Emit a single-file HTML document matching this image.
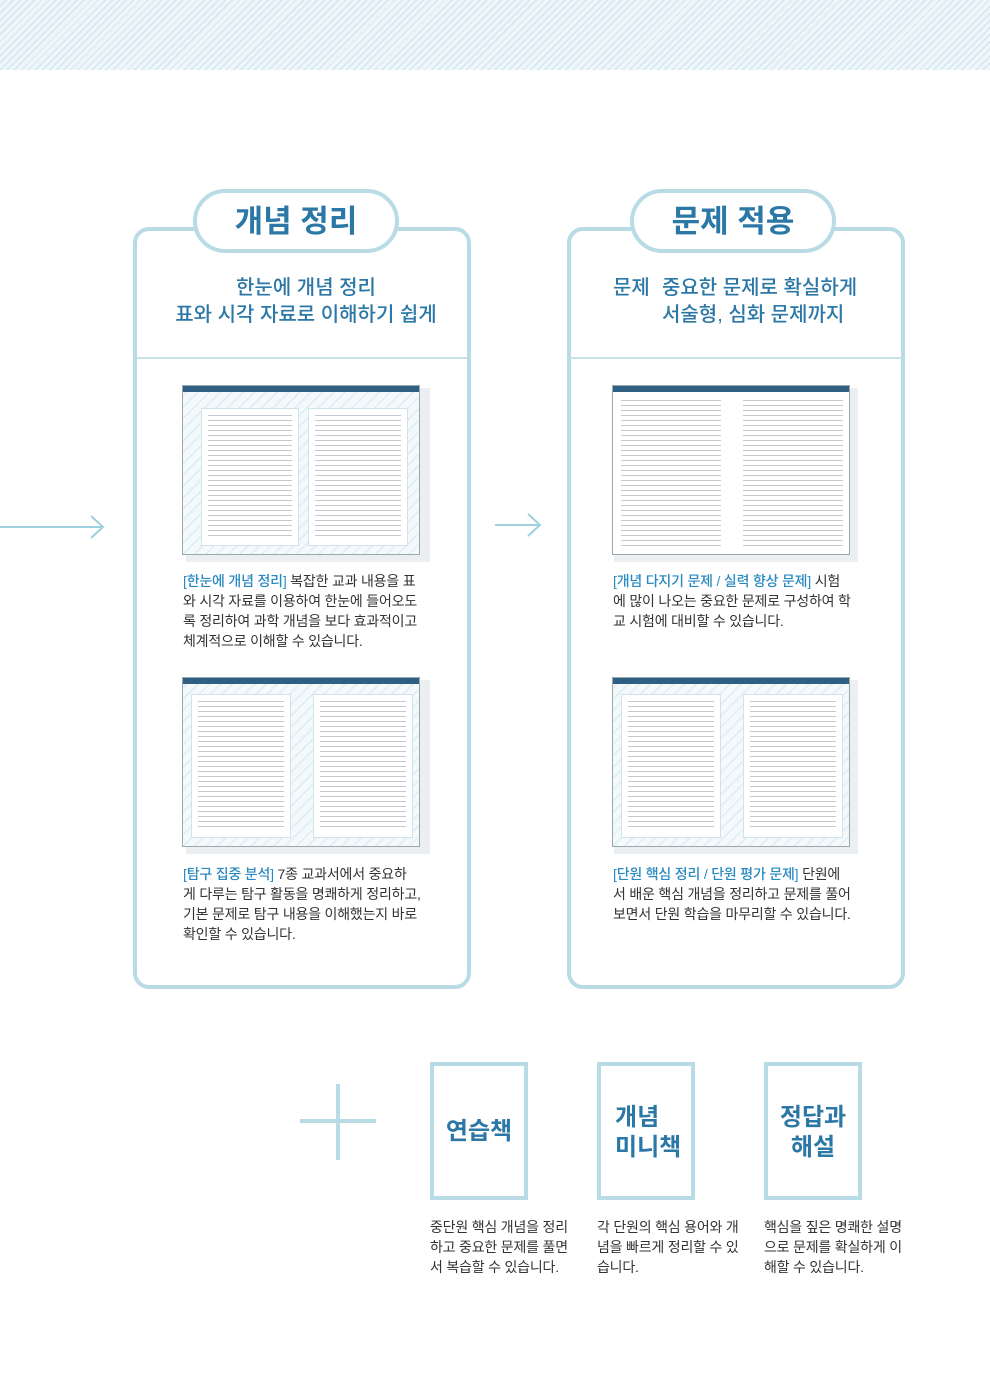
<!DOCTYPE html>
<html><head><meta charset="utf-8"><style>
*{margin:0;padding:0;box-sizing:border-box}
body{width:990px;height:1400px;background:#fff;position:relative;overflow:hidden;font-family:"Liberation Sans","Noto Sans CJK KR",sans-serif}
.stripe{position:absolute;left:0;top:0;width:990px;height:70px;background:repeating-linear-gradient(135deg,#eef6fa 0 4px,#c9e2ec 4px 5px)}
.box{position:absolute;border:4px solid #b9dbe5;border-radius:16px;background:#fff}
.tab{position:absolute;height:64px;border:4px solid #b9dbe5;border-radius:32px;background:#fff;color:#2b77a6;font-size:31px;font-weight:bold;text-align:center;line-height:58px}
.sub{position:absolute;color:#2b77a6;font-size:20px;line-height:27px;font-weight:500}
.div{position:absolute;height:2px;background:#c8e2ea}
.thumb{position:absolute;background:#eceff1;padding:0}
.pg{position:absolute;border:1px solid #9aa;background:repeating-linear-gradient(135deg,#f4f9fb 0 6px,#e4eff4 6px 8px)}
.bar{position:absolute;left:0;right:0;top:0;height:6px;background:#2f5f82}
.panel{position:absolute;background:#fff;border:1px solid #cfe3ea}
.lines{position:absolute;background:repeating-linear-gradient(180deg,#c3c9cd 0 1px,transparent 1px 5px)}
.desc{position:absolute;font-size:14px;line-height:20px;color:#333;white-space:nowrap;letter-spacing:-0.2px}
.desc b{color:#2b8ac0;font-weight:500}
.sbox{position:absolute;width:98px;height:138px;border:4px solid #b9dbe5;color:#2b77a6;font-size:24px;font-weight:bold;line-height:30px}
</style></head><body>
<div class="stripe"></div>

<svg style="position:absolute;left:0;top:510px" width="560" height="34">
<line x1="0" y1="17" x2="103" y2="17" stroke="#9fd0e0" stroke-width="2"/>
<polyline points="91,6 103,17 91,28" fill="none" stroke="#9fd0e0" stroke-width="2"/>
<line x1="495" y1="15" x2="540" y2="15" stroke="#9fd0e0" stroke-width="2"/>
<polyline points="528,4 540,15 528,26" fill="none" stroke="#9fd0e0" stroke-width="2"/>
</svg>

<div class="box" style="left:133px;top:227px;width:338px;height:762px"></div>
<div class="div" style="left:137px;top:357px;width:330px"></div>
<div class="tab" style="left:193px;top:189px;width:206px">개념 정리</div>
<div class="sub" style="left:137px;top:275px;width:338px;text-align:center">한눈에 개념 정리<br>표와 시각 자료로 이해하기 쉽게</div>

<div class="box" style="left:567px;top:227px;width:338px;height:762px"></div>
<div class="div" style="left:571px;top:357px;width:330px"></div>
<div class="tab" style="left:630px;top:189px;width:206px">문제 적용</div>
<div class="sub" style="left:613px;top:275px;width:300px"><span style="display:inline-block;width:49px">문제</span>중요한 문제로 확실하게<br><span style="padding-left:49px">서술형, 심화 문제까지</span></div>

<div class="thumb" style="left:186px;top:388px;width:244px;height:174px"></div>
<div class="pg" style="left:182px;top:385px;width:238px;height:170px"><div class="bar"></div>
<div class="panel" style="left:18px;top:22px;width:98px;height:138px"><div class="lines" style="left:6px;top:6px;width:84px;height:124px"></div></div>
<div class="panel" style="left:125px;top:22px;width:100px;height:138px"><div class="lines" style="left:6px;top:6px;width:86px;height:124px"></div></div></div>

<div class="thumb" style="left:614px;top:388px;width:244px;height:174px"></div>
<div class="pg" style="left:612px;top:385px;width:238px;height:170px;background:#fff"><div class="bar"></div>
<div class="lines" style="left:8px;top:14px;width:100px;height:146px"></div><div class="lines" style="left:130px;top:14px;width:100px;height:146px"></div></div>

<div class="thumb" style="left:186px;top:680px;width:244px;height:174px"></div>
<div class="pg" style="left:182px;top:677px;width:238px;height:170px"><div class="bar"></div>
<div class="panel" style="left:8px;top:16px;width:100px;height:144px"><div class="lines" style="left:6px;top:6px;width:86px;height:130px"></div></div>
<div class="panel" style="left:130px;top:16px;width:100px;height:144px"><div class="lines" style="left:6px;top:6px;width:86px;height:130px"></div></div></div>

<div class="thumb" style="left:614px;top:680px;width:244px;height:174px"></div>
<div class="pg" style="left:612px;top:677px;width:238px;height:170px"><div class="bar"></div>
<div class="panel" style="left:8px;top:16px;width:100px;height:144px"><div class="lines" style="left:6px;top:6px;width:86px;height:130px"></div></div>
<div class="panel" style="left:130px;top:16px;width:100px;height:144px"><div class="lines" style="left:6px;top:6px;width:86px;height:130px"></div></div></div>

<div class="desc" style="left:183px;top:571px"><b>[한눈에 개념 정리]</b> 복잡한 교과 내용을 표<br>와 시각 자료를 이용하여 한눈에 들어오도<br>록 정리하여 과학 개념을 보다 효과적이고<br>체계적으로 이해할 수 있습니다.</div>
<div class="desc" style="left:183px;top:864px"><b>[탐구 집중 분석]</b> 7종 교과서에서 중요하<br>게 다루는 탐구 활동을 명쾌하게 정리하고,<br>기본 문제로 탐구 내용을 이해했는지 바로<br>확인할 수 있습니다.</div>
<div class="desc" style="left:613px;top:571px"><b>[개념 다지기 문제 / 실력 향상 문제]</b> 시험<br>에 많이 나오는 중요한 문제로 구성하여 학<br>교 시험에 대비할 수 있습니다.</div>
<div class="desc" style="left:613px;top:864px"><b>[단원 핵심 정리 / 단원 평가 문제]</b> 단원에<br>서 배운 핵심 개념을 정리하고 문제를 풀어<br>보면서 단원 학습을 마무리할 수 있습니다.</div>

<div style="position:absolute;left:300px;top:1119px;width:76px;height:4px;background:#b9dbe5"></div>
<div style="position:absolute;left:336px;top:1084px;width:4px;height:76px;background:#b9dbe5"></div>

<div class="sbox" style="left:430px;top:1062px;text-align:center;padding-top:51px">연습책</div>
<div class="sbox" style="left:597px;top:1062px;padding:37px 0 0 14px">개념<br>미니책</div>
<div class="sbox" style="left:764px;top:1062px;text-align:center;padding-top:37px">정답과<br>해설</div>

<div class="desc" style="left:430px;top:1217px">중단원 핵심 개념을 정리<br>하고 중요한 문제를 풀면<br>서 복습할 수 있습니다.</div>
<div class="desc" style="left:597px;top:1217px">각 단원의 핵심 용어와 개<br>념을 빠르게 정리할 수 있<br>습니다.</div>
<div class="desc" style="left:764px;top:1217px">핵심을 짚은 명쾌한 설명<br>으로 문제를 확실하게 이<br>해할 수 있습니다.</div>
</body></html>
